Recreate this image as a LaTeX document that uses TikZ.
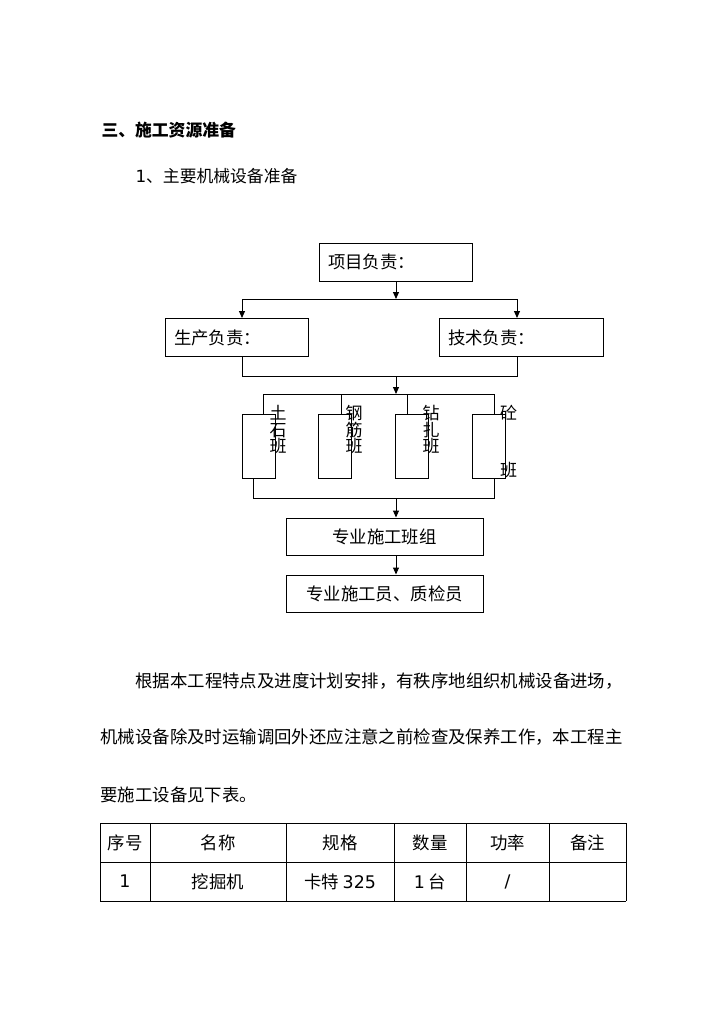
\documentclass[tikz,border=0pt]{standalone}
\usepackage{fontspec}
\setmainfont{Noto Sans CJK SC}
\newfontfamily\latin{DejaVu Sans}
\usetikzlibrary{arrows.meta}
\newcommand{\fs}{\fontsize{17.4}{20}\selectfont}
\newcommand{\hs}{\fontsize{16.8}{20}\selectfont}
% team box with its label beside it
\newcommand{\team}[4]{
\node[teambox] (#1) at (#2,446) {};
\node[teamlbl] (#1l) at (#3,405) {#4};
}
\begin{document}
\begin{tikzpicture}[x=1pt,y=-1pt,line width=1pt,
  box/.style={draw, inner xsep=9pt, inner ysep=0pt, minimum height=38pt, align=left, font=\fs},
  teambox/.style={draw, minimum width=33pt, minimum height=64pt, inner sep=0pt},
  teamlbl/.style={anchor=north west, inner sep=0pt, align=left, font=\fontsize{17}{16.5}\selectfont},
  txt/.style={anchor=west, inner sep=0pt, font=\fs},
  cell/.style={inner sep=0pt, font=\fs},
  arr/.style={-{Triangle[length=7pt,width=6pt]}}]
\useasboundingbox (0,0) rectangle (724,1024);

% headings
\node[txt, font=\hs\bfseries] (sec) at (101,130) {三、施工资源准备};
\node[txt, font=\hs] (sub) at (135,176) {{\latin 1}、主要机械设备准备};

% managers
\node[box, text width=135pt] (pm) at (395.5,262) {项目负责：};
\node[box, text width=125pt] (prod) at (236.5,337.5) {生产负责：};
\node[box, text width=146pt] (tech) at (521,337.5) {技术负责：};

\coordinate (b0) at (396,299);
\coordinate (bl) at (242,299);
\coordinate (br) at (517,299);
\draw[arr] (pm.south -| b0) -- (b0);
\draw (bl) -- (br);
\draw[arr] (bl) -- (bl |- prod.north);
\draw[arr] (br) -- (br |- tech.north);

\coordinate (cl) at (242,376);
\coordinate (cr) at (517,376);
\coordinate (c0) at (396,376);
\coordinate (tb) at (396,394);
\draw (cl |- prod.south) -- (cl) -- (cr) -- (cr |- tech.south);
\draw[arr] (c0) -- (tb);

% teams
\team{t1}{258.5}{269}{土\\石\\班}
\team{t2}{334.5}{345}{钢\\筋\\班}
\team{t3}{412}{422}{钻\\扎\\班}
\team{t4}{488.5}{499.5}{砼\\[40.5pt]班}

\coordinate (d1) at (263,394);
\coordinate (d2) at (341,394);
\coordinate (d3) at (407,394);
\coordinate (d4) at (494,394);
\draw (d1) -- (d4);
\foreach \i in {1,...,4}
  \draw (d\i) -- (d\i |- t\i.north);

\coordinate (e1) at (253,498);
\coordinate (e2) at (494,498);
\coordinate (e0) at (396,498);
\draw (e1 |- t1.south) -- (e1) -- (e2) -- (e2 |- t4.south);

% groups
\node[box, minimum width=197pt, minimum height=37pt, align=center] (grp) at (384.5,536.5) {专业施工班组};
\node[box, minimum width=197pt, minimum height=37pt, align=center] (staff) at (384.5,593.5) {专业施工员、质检员};
\draw[arr] (e0) -- (e0 |- grp.north);
\draw[arr] (e0 |- grp.south) -- (e0 |- staff.north);

% text
\node[txt] (p1) at (135,681) {根据本工程特点及进度计划安排，有秩序地组织机械设备进场，};
\node[txt] (p2) at (100,737) {机械设备除及时运输调回外还应注意之前检查及保养工作，本工程主};
\node[txt] (p3) at (100,795) {要施工设备见下表。};

% table
\foreach \y in {823,862,901}
  \draw[line width=0.8pt] (100,\y) -- (626,\y);
\foreach \x in {100,150,286,394,466,549,626}
  \draw[line width=0.8pt] (\x,823) -- (\x,901);

\node[cell] (h1) at (125,842.5) {序号};
\node[cell] (h2) at (218,842.5) {名称};
\node[cell] (h3) at (340,842.5) {规格};
\node[cell] (h4) at (430,842.5) {数量};
\node[cell] (h5) at (507.5,842.5) {功率};
\node[cell] (h6) at (587.5,842.5) {备注};

\node[cell] (r1) at (125,881.5) {\latin 1};
\node[cell] (r2) at (218,881.5) {挖掘机};
\node[cell] (r3) at (340,881.5) {卡特 {\latin 325}};
\node[cell] (r4) at (430,881.5) {{\latin 1} 台};
\node[cell] (r5) at (507.5,881.5) {\latin /};
\end{tikzpicture}
\end{document}
